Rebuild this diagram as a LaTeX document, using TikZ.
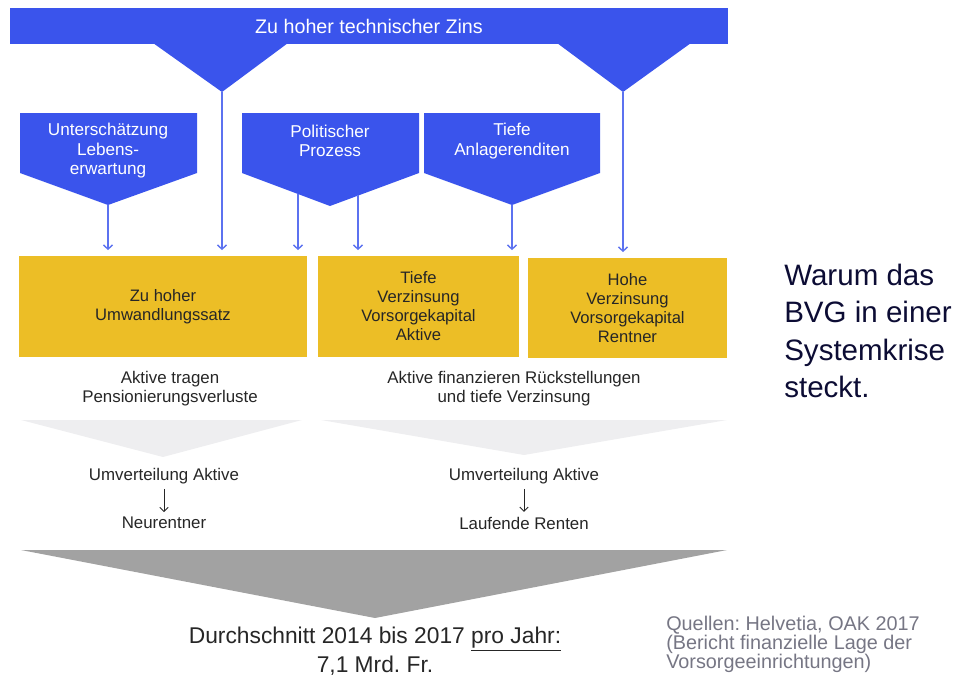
\documentclass[tikz,border=0pt]{standalone}
\usepackage{fontspec}
\setmainfont{Liberation Sans}
\frenchspacing
\usetikzlibrary{arrows.meta, positioning, calc}
\definecolor{zins_blue}{RGB}{58, 84, 236}
\definecolor{line_blue}{RGB}{92, 114, 240}
\definecolor{gold}{RGB}{236, 190, 38}
\definecolor{pale_grey}{RGB}{238, 238, 240}
\definecolor{mid_grey}{RGB}{162, 162, 162}
\definecolor{navy}{RGB}{12, 12, 52}
\definecolor{source_grey}{RGB}{118, 118, 132}

\begin{document}
\begin{tikzpicture}[
    x=0.025cm, y=-0.025cm,
    % Node styles
    banner/.style={
        rectangle,
        fill=zins_blue,
        text=white,
        minimum width=17.95cm,
        minimum height=0.9cm,
        font=\fontsize{14}{16}\selectfont
    },
    cause/.style={
        text=white,
        align=center,
        font=\fontsize{12.2}{13.9}\selectfont
    },
    effect/.style={
        rectangle,
        fill=gold,
        text=black!85,
        minimum width=#1,
        minimum height=2.525cm,
        inner sep=0pt,
        align=center,
        font=\fontsize{11.8}{13.5}\selectfont
    },
    note/.style={
        text=black!85,
        align=center,
        font=\fontsize{12}{13.5}\selectfont
    },
    arrow/.style={
        -{Straight Barb[length=3pt, width=6.5pt]},
        line width=1pt,
        shorten >=4pt,
        #1
    },
    text_arrow/.style={
        -{Straight Barb[length=3pt, width=6pt]},
        line width=0.6pt,
        black!85
    }
]
\useasboundingbox (0,0) rectangle (964,686);

% Position nodes
\node[banner] (zins) at (369,26) {Zu hoher technischer Zins};
\fill[zins_blue] (153,43) -- (222,92) -- (288,43) -- cycle;
\fill[zins_blue] (557,43) -- (623,92) -- (691,43) -- cycle;
\coordinate (zinsL) at (222,92);
\coordinate (zinsR) at (623,92);

\fill[zins_blue] (20,113) -- (197,113) -- (197,173) -- (108,205) -- (20,173) -- cycle;
\fill[zins_blue] (242,113) -- (419,113) -- (419,173) -- (330,206) -- (242,173) -- cycle;
\fill[zins_blue] (424,113) -- (600,113) -- (600,173) -- (512,205) -- (424,173) -- cycle;
\node[cause] (leben) at (108,151) {Unterschätzung\\Lebens-\\erwartung};
\node[cause] (politik) at (330,141) {Politischer\\Prozess};
\node[cause] (rendite) at (512,141) {Tiefe\\Anlagerenditen};
\coordinate (lebenTip) at (108,205);
\coordinate (politikL) at (298,194);
\coordinate (politikR) at (358,195);
\coordinate (renditeTip) at (512,205);

\node[effect=7.2cm] (umwandlung) at (163,306.5) {Zu hoher\\Umwandlungssatz};
\node[effect=5.025cm] (aktive) at (418.5,306.5) {Tiefe\\Verzinsung\\Vorsorgekapital\\Aktive};
\node[effect=4.975cm, minimum height=2.5cm] (rentner) at (627.5,308) {Hohe\\Verzinsung\\Vorsorgekapital\\Rentner};

\node[note] (verluste) at (170,389) {Aktive tragen\\Pensionierungsverluste};
\node[note] (rueck) at (514,389) {Aktive finanzieren Rückstellungen\\und tiefe Verzinsung};

\fill[pale_grey] (21,420) -- (302,420) -- (163,457) -- cycle;
\fill[pale_grey] (321,420) -- (727,420) -- (524,455) -- cycle;

\node[note] (umvL) at (164,476) {Umverteilung Aktive};
\node[note] (neu) at (164,523) {Neurentner};
\node[note] (umvR) at (524,476) {Umverteilung Aktive};
\node[note] (laufend) at (524,523) {Laufende Renten};

\fill[mid_grey] (21,550) -- (727,550) -- (375,618) -- cycle;

\node[align=center, text=black!85, font=\fontsize{16.2}{20.6}\selectfont] (total) at (375,651.5)
    {Durchschnitt 2014 bis 2017 \underline{pro Jahr:}\\7,1 Mrd. Fr.};

\node[anchor=west, align=left, text=navy, inner sep=0pt, font=\fontsize{21}{26.7}\selectfont] (titel) at (784,331)
    {Warum das\\BVG in einer\\Systemkrise\\steckt.};
\node[anchor=west, align=left, text=source_grey, inner sep=0pt, font=\fontsize{14.1}{13.5}\selectfont] (quellen) at (666,644)
    {Quellen: Helvetia, OAK 2017\\(Bericht finanzielle Lage der\\Vorsorgeeinrichtungen)};

% draw arrows
\draw[arrow=line_blue] (lebenTip) -- (lebenTip |- umwandlung.north);
\draw[arrow=line_blue] (zinsL) -- (zinsL |- umwandlung.north);
\draw[arrow=line_blue] (politikL) -- (politikL |- umwandlung.north);
\draw[arrow=line_blue] (politikR) -- (politikR |- aktive.north);
\draw[arrow=line_blue] (renditeTip) -- (renditeTip |- aktive.north);
\draw[arrow=line_blue] (zinsR) -- (zinsR |- rentner.north);

\draw[text_arrow] (umvL) -- (neu);
\draw[text_arrow] (umvR) -- (laufend);

\end{tikzpicture}
\end{document}
